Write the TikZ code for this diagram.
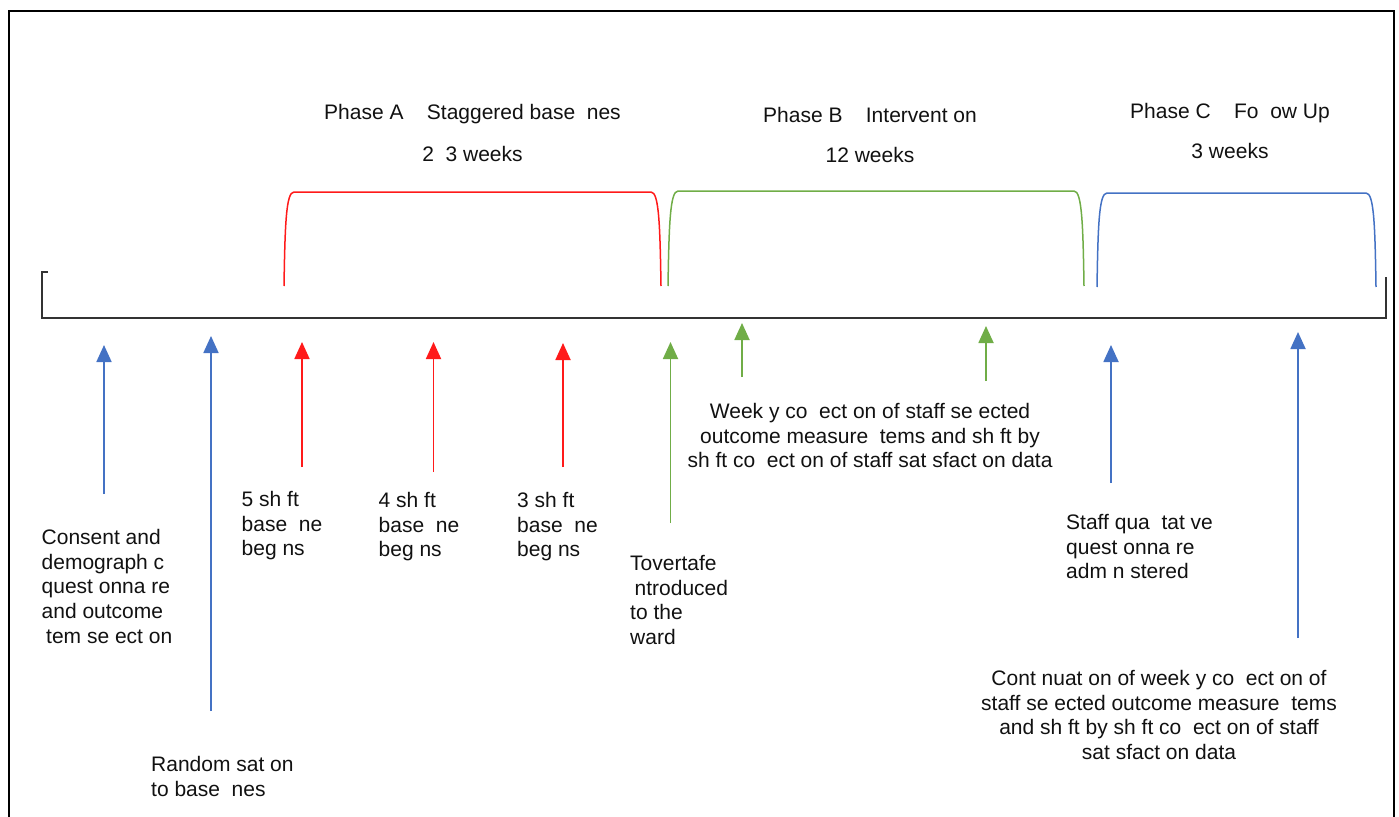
\documentclass[tikz,border=0pt]{standalone}
\usepackage{fontspec}
\setmainfont{Liberation Sans}
\usetikzlibrary{arrows.meta}
\definecolor{cblue}{HTML}{4472C4}
\definecolor{cred}{HTML}{FF1A1A}
\definecolor{cgreen}{HTML}{70AD47}
\definecolor{ctext}{HTML}{111111}
\begin{document}
\begin{tikzpicture}[x=1pt,y=-1pt,
  lbl/.style={font=\fontsize{21}{24.7}\selectfont, text=ctext, inner sep=0pt, align=left, anchor=north west},
  clbl/.style={lbl, align=center, anchor=north},
  brk/.style={line width=1.5pt},
  uparrow/.style={line width=1.8pt, -{Triangle[width=15pt,length=17pt]}},
  axis/.style={line width=1.5pt, black!80},
  frame/.style={line width=2.5pt, black}]
\useasboundingbox (0,0) rectangle (1399,816);
% frame
\coordinate (fbl) at (9,820);
\coordinate (ftl) at (9,11);
\coordinate (ftr) at (1394,11);
\coordinate (fbr) at (1394,820);
\draw[frame] (fbl) -- (ftl) -- (ftr) -- (fbr);
% timeline
\coordinate (tstub) at (48,272);
\coordinate (ttl) at (42,272);
\coordinate (tbl) at (42,318);
\coordinate (tbr) at (1386,318);
\coordinate (ttr) at (1386,277);
\draw[axis] (tstub) -- (ttl) -- (tbl) -- (tbr) -- (ttr);
% brackets
\coordinate (ra) at (284,286); \coordinate (rb) at (661,286);
\draw[brk,cred] (ra) .. controls (285,225) and (286,192) .. (294,192) -- (651,192) .. controls (659,192) and (660,225) .. (rb);
\coordinate (ga) at (668,286); \coordinate (gb) at (1084,286);
\draw[brk,cgreen] (ga) .. controls (669,225) and (670,191) .. (678,191) -- (1074,191) .. controls (1082,191) and (1083,225) .. (gb);
\coordinate (ba) at (1097,287); \coordinate (bb) at (1376,287);
\draw[brk,cblue] (ba) .. controls (1098,225) and (1099,193) .. (1107,193) -- (1366,193) .. controls (1374,193) and (1375,225) .. (bb);
% phase titles
\node[clbl] (pa) at (472.5,104) {Phase A~~~~Staggered base~~nes\\[17.3pt]2~~3 weeks};
\node[clbl] (pb) at (870,107) {Phase B~~~~Intervent on\\[15.3pt]12 weeks};
\node[clbl] (pc) at (1230,103) {Phase C~~~~Fo~~ow Up\\[15.3pt]3 weeks};
% arrows
\coordinate (a1s) at (104,494); \coordinate (a1e) at (104,345);
\coordinate (a2s) at (211,711); \coordinate (a2e) at (211,336);
\coordinate (a3s) at (302,467); \coordinate (a3e) at (302,342);
\coordinate (a4s) at (433.5,472); \coordinate (a4e) at (433.5,342);
\coordinate (a5s) at (563,467); \coordinate (a5e) at (563,343);
\coordinate (a6s) at (670.5,523); \coordinate (a6e) at (670.5,342);
\coordinate (a7s) at (742,377); \coordinate (a7e) at (742,323);
\coordinate (a8s) at (986,381); \coordinate (a8e) at (986,326);
\coordinate (a9s) at (1111,483); \coordinate (a9e) at (1111,345);
\coordinate (a10s) at (1298,638); \coordinate (a10e) at (1298,332);
\draw[uparrow,cblue] (a1s) -- (a1e);
\draw[uparrow,cblue] (a2s) -- (a2e);
\draw[uparrow,cred] (a3s) -- (a3e);
\draw[uparrow,cred] (a4s) -- (a4e);
\draw[uparrow,cred] (a5s) -- (a5e);
\draw[uparrow,cgreen] (a6s) -- (a6e);
\draw[uparrow,cgreen] (a7s) -- (a7e);
\draw[uparrow,cgreen] (a8s) -- (a8e);
\draw[uparrow,cblue] (a9s) -- (a9e);
\draw[uparrow,cblue] (a10s) -- (a10e);
% labels
\node[lbl] (consent) at (41.5,529) {Consent and\\demograph c\\quest onna re\\and outcome\\\hspace*{4.5pt}tem se ect on};
\node[lbl] (random) at (151,756) {Random sat on\\to base~~nes};
\node[lbl] (s5) at (241.5,491) {5 sh ft\\base~~ne\\beg ns};
\node[lbl] (s4) at (378.5,492) {4 sh ft\\base~~ne\\beg ns};
\node[lbl] (s3) at (517,492) {3 sh ft\\base~~ne\\beg ns};
\node[lbl] (tov) at (630,555) {Tovertafe\\\hspace*{4.5pt}ntroduced\\to the\\ward};
\node[clbl] (weekly) at (870,403) {Week y co~~ect on of staff se ected\\outcome measure~~tems and sh ft by\\sh ft co~~ect on of staff sat sfact on data};
\node[lbl] (staffq) at (1066,514) {Staff qua~~tat ve\\quest onna re\\adm n stered};
\node[clbl] (cont) at (1159,670) {Cont nuat on of week y co~~ect on of\\staff se ected outcome measure~~tems\\and sh ft by sh ft co~~ect on of staff\\sat sfact on data};
\end{tikzpicture}
\end{document}
